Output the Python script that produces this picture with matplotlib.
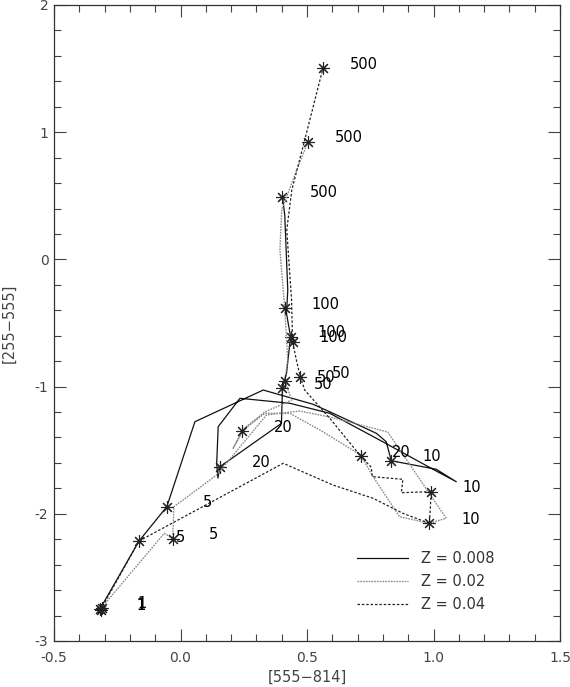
import matplotlib
matplotlib.use('Agg')
import matplotlib.pyplot as plt
from matplotlib.ticker import MultipleLocator, FormatStrFormatter

# ---------------- data ----------------
ages = ['1', '5', '10', '20', '50', '100', '500']
metallicities = ['0.008', '0.02', '0.04']

# Z = 0.008 track (solid)
z008_x = [-0.318, -0.164, -0.054, 0.057, 0.327, 0.524, 0.603, 0.774, 0.813, 0.833,
          1.011, 1.090, 1.011, 0.787, 0.590, 0.432, 0.235, 0.149, 0.143, 0.148,
          0.156, 0.399, 0.403, 0.419, 0.435, 0.419, 0.424, 0.412, 0.403]
z008_y = [-2.748, -2.214, -1.944, -1.276, -1.027, -1.139, -1.210, -1.367, -1.433, -1.583,
          -1.650, -1.748, -1.664, -1.420, -1.210, -1.131, -1.092, -1.315, -1.603, -1.719,
          -1.630, -1.289, -1.011, -0.896, -0.608, -0.424, -0.241, 0.349, 0.493]
z008_age_x = [-0.318, -0.054, 0.833, 0.156, 0.403, 0.435, 0.403]
z008_age_y = [-2.748, -1.944, -1.583, -1.630, -1.011, -0.608, 0.493]

# Z = 0.02 track (grey dotted)
z02_x = [-0.312, -0.064, -0.031, -0.026, 0.143, 0.340, 0.471, 0.590, 0.819, 1.050,
         0.984, 0.866, 0.761, 0.712, 0.563, 0.432, 0.333, 0.243, 0.208, 0.254,
         0.333, 0.440, 0.412, 0.424, 0.412, 0.393, 0.400, 0.452, 0.504]
z02_y = [-2.738, -2.153, -2.196, -1.944, -1.695, -1.223, -1.192, -1.239, -1.357, -2.035,
         -2.075, -2.023, -1.708, -1.538, -1.355, -1.210, -1.210, -1.349, -1.485, -1.325,
         -1.200, -1.105, -0.956, -0.791, -0.385, 0.074, 0.388, 0.664, 0.925]
z02_age_x = [-0.312, -0.031, 0.984, 0.243, 0.412, 0.412, 0.504]
z02_age_y = [-2.738, -2.196, -2.075, -1.349, -0.956, -0.385, 0.925]

# Z = 0.04 track (dashed)
z04_x = [-0.316, -0.164, 0.406, 0.603, 0.761, 0.879, 0.984, 0.991, 0.873, 0.879,
         0.758, 0.754, 0.712, 0.590, 0.537, 0.491, 0.474, 0.458, 0.443, 0.439,
         0.420, 0.440, 0.491, 0.563]
z04_y = [-2.755, -2.214, -1.603, -1.774, -1.878, -1.996, -2.075, -1.826, -1.834, -1.729,
         -1.708, -1.634, -1.546, -1.249, -1.131, -1.027, -0.927, -0.791, -0.647, -0.319,
         0.231, 0.546, 0.939, 1.502]
z04_age_x = [-0.316, -0.164, 0.991, 0.712, 0.474, 0.443, 0.563]
z04_age_y = [-2.755, -2.214, -1.826, -1.546, -0.927, -0.647, 1.502]

# ---------------- figure ----------------
plt.rcParams['font.family'] = ['DejaVu Sans']
fig = plt.figure(figsize=(5.70, 6.87), dpi=100)
ax = fig.add_axes([54/570, 46/687, 506/570, 636/687])

styles = [
    dict(color='#111111', lw=0.9, ls='-'),
    dict(color='#8c8c8c', lw=1.0, ls=(0, (1.2, 0.8))),
    dict(color='#222222', lw=0.9, ls=(0, (2, 1.5))),
]
tracks = [(z008_x, z008_y, z008_age_x, z008_age_y),
          (z02_x, z02_y, z02_age_x, z02_age_y),
          (z04_x, z04_y, z04_age_x, z04_age_y)]

handles = []
for (tx, ty, ax_, ay_), st, z in zip(tracks, styles, metallicities):
    h, = ax.plot(tx, ty, **st, label=f'Z = {z}')
    handles.append(h)
    ax.plot(ax_, ay_, ls='none', marker=(8, 2, 0), ms=9, mew=0.8,
            color='#222222')
    for xa, ya, lab in zip(ax_, ay_, ages):
        ax.text(xa + 0.162, ya + 0.031, lab, ha='center', va='center',
                fontsize=10.5, color='black')

leg = ax.legend(handles=handles, loc='lower left', bbox_to_anchor=(0.572, 0.025),
                frameon=False, handlelength=3.5, handletextpad=0.9,
                labelspacing=0.55, fontsize=10.5)
for t in leg.get_texts():
    t.set_color('#333333')

ax.set_xlim(-0.5, 1.5)
ax.set_ylim(-3, 2)
ax.xaxis.set_major_locator(MultipleLocator(0.5))
ax.xaxis.set_minor_locator(MultipleLocator(0.1))
ax.yaxis.set_major_locator(MultipleLocator(1))
ax.yaxis.set_minor_locator(MultipleLocator(0.2))
ax.xaxis.set_major_formatter(FormatStrFormatter('%.1f'))
ax.yaxis.set_major_formatter(FormatStrFormatter('%d'))
ax.tick_params(which='both', direction='in', top=True, right=True,
               colors='#444444', labelsize=10, width=0.8)
ax.tick_params(which='major', length=8.5)
ax.tick_params(which='minor', length=4.7)
ax.tick_params(axis='x', which='major', pad=7)
ax.tick_params(axis='y', which='major', pad=4)
for s in ax.spines.values():
    s.set_color('#333333')
    s.set_linewidth(0.9)

ax.set_xlabel('[555\u2212814]', fontsize=10.5, color='#444444', labelpad=4)
ax.set_ylabel('[255\u2212555]', fontsize=10.5, color='#444444', labelpad=13)

fig.savefig('out.png', dpi=100)
